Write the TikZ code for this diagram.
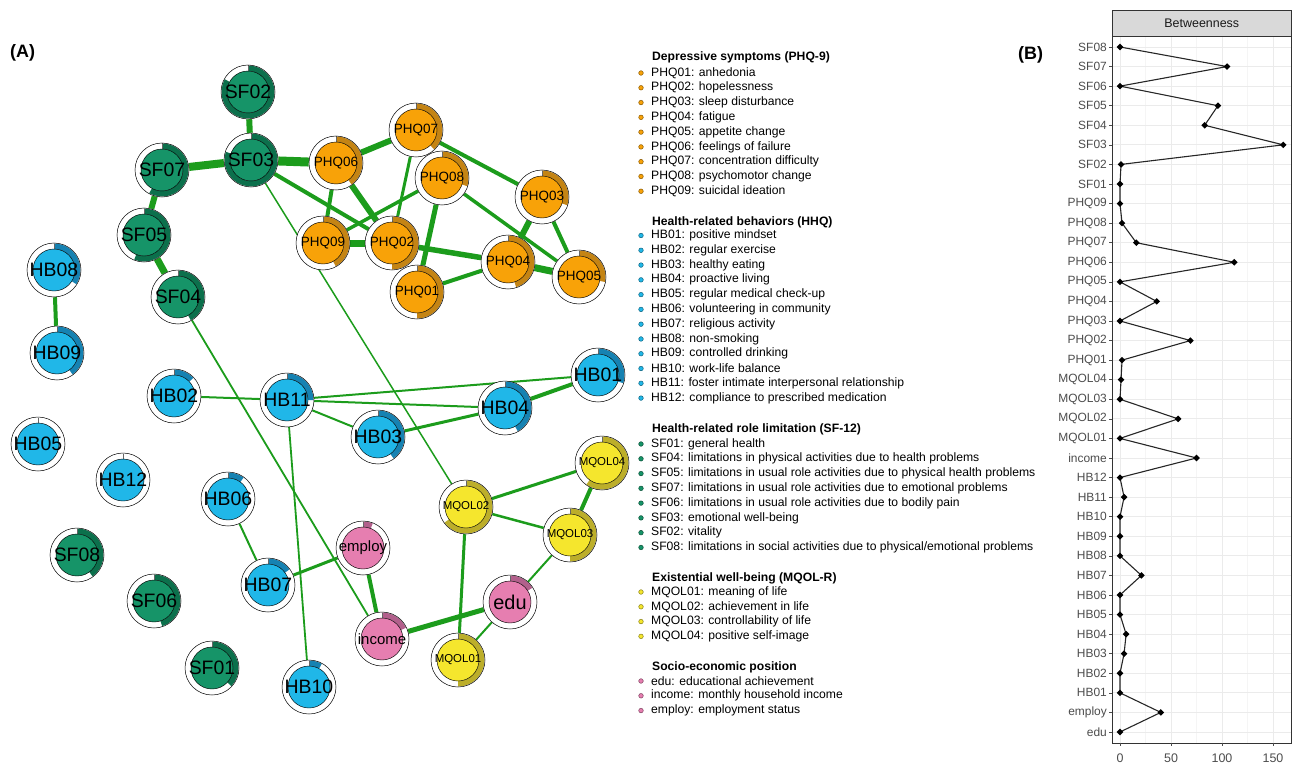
\documentclass[tikz,border=0pt]{standalone}
\usepackage{fontspec}
\setmainfont{Liberation Sans}
\usetikzlibrary{backgrounds}
\definecolor{SFf}{RGB}{22,148,104}
\definecolor{SFd}{RGB}{12,112,76}
\definecolor{HBf}{RGB}{32,183,232}
\definecolor{HBd}{RGB}{22,130,178}
\definecolor{PHf}{RGB}{248,162,8}
\definecolor{PHd}{RGB}{196,132,20}
\definecolor{MQf}{RGB}{245,230,45}
\definecolor{MQd}{RGB}{188,174,42}
\definecolor{SEf}{RGB}{230,126,176}
\definecolor{SEd}{RGB}{178,96,140}
\definecolor{edgec}{RGB}{28,156,28}
\definecolor{gridmaj}{RGB}{235,235,235}
\definecolor{gridmin}{RGB}{245,245,245}
\tikzset{
  pn/.style n args={3}{circle, minimum size=54bp, inner sep=0pt, draw=black, line width=0.5bp, fill=white, text=black,
    path picture={
      \fill[#2] ([shift={(90:21bp)}]path picture bounding box.center) arc[start angle=90,end angle={90-360*#3},radius=21bp]
         -- ([shift={({90-360*#3}:26.5bp)}]path picture bounding box.center) arc[start angle={90-360*#3},end angle=90,radius=26.5bp] -- cycle;
      \draw[line width=0.4bp, black!60] ([shift={(90:21bp)}]path picture bounding box.center) -- ([shift={(90:26.5bp)}]path picture bounding box.center);
      \filldraw[fill=#1, draw=black, line width=0.45bp] (path picture bounding box.center) circle[radius=21bp];
    }},
  fSF/.style={font=\fontsize{19.5}{19.5}\selectfont},
  fPH/.style={font=\fontsize{13.5}{13.5}\selectfont},
  fMQ/.style={font=\fontsize{11.5}{11.5}\selectfont},
  fSE/.style={font=\fontsize{15}{15}\selectfont},
  ed/.style={draw=edgec},
  lhead/.style={anchor=west, inner sep=0pt, font=\fontsize{12.2}{12.2}\selectfont\bfseries, text=black},
  litem/.style={anchor=west, inner sep=0pt, font=\fontsize{12.2}{12.2}\selectfont, text=black},
  lbul/.style={circle, inner sep=0pt, minimum size=4.6bp, line width=0.5bp},
  ylab/.style={anchor=east, inner sep=0pt, font=\fontsize{12}{12}\selectfont, text=black!70},
  xlab/.style={inner sep=0pt, font=\fontsize{12.5}{12.5}\selectfont, text=black!70},
  tickl/.style={draw=black!70, line width=0.5bp},
  panellab/.style={inner sep=0pt, font=\fontsize{18}{18}\selectfont\bfseries},
}
\newcommand\leggroup[6]{%
  \node[lhead] (#1h) at (652,#3) {#2};
  \foreach \t [count=\k from 0] in {#6} {
    \pgfmathsetmacro\yy{#4+\k*14.78}
    \node[lbul, fill=#5, draw=#5!55!black] (#1b\k) at (641,\yy) {};
    \node[litem] (#1t\k) at (651,\yy) {\t};
  }%
}
\begin{document}
\begin{tikzpicture}[x=1bp,y=-1bp]
\useasboundingbox (0,0) rectangle (1298,766);

% ---------------- Panel A: nodes ----------------
\node[pn={SFf}{SFd}{0.83}, fSF] (SF02) at (248,92) {SF02};
\node[pn={SFf}{SFd}{0.80}, fSF] (SF03) at (251,160) {SF03};
\node[pn={SFf}{SFd}{0.58}, fSF] (SF07) at (162,170) {SF07};
\node[pn={SFf}{SFd}{0.56}, fSF] (SF05) at (144,235) {SF05};
\node[pn={SFf}{SFd}{0.42}, fSF] (SF04) at (178,297) {SF04};
\node[pn={HBf}{HBd}{0.34}, fSF] (HB08) at (54,270) {HB08};
\node[pn={HBf}{HBd}{0.40}, fSF] (HB09) at (57,353) {HB09};
\node[pn={HBf}{HBd}{0.13}, fSF] (HB02) at (174,396) {HB02};
\node[pn={HBf}{HBd}{0.25}, fSF] (HB11) at (287,400) {HB11};
\node[pn={HBf}{HBd}{0.001}, fSF] (HB05) at (38,444) {HB05};
\node[pn={HBf}{HBd}{0.001}, fSF] (HB12) at (123,480) {HB12};
\node[pn={HBf}{HBd}{0.10}, fSF] (HB06) at (228,499) {HB06};
\node[pn={SFf}{SFd}{0.40}, fSF] (SF08) at (77,555) {SF08};
\node[pn={HBf}{HBd}{0.15}, fSF] (HB07) at (268,585) {HB07};
\node[pn={SFf}{SFd}{0.45}, fSF] (SF06) at (154,601) {SF06};
\node[pn={SFf}{SFd}{0.37}, fSF] (SF01) at (212,668) {SF01};
\node[pn={HBf}{HBd}{0.08}, fSF] (HB10) at (309,687) {HB10};
\node[pn={SEf}{SEd}{0.18}, fSE] (income) at (382,639) {income};
\node[pn={MQf}{MQd}{0.50}, fMQ] (MQOL01) at (458,660) {MQOL01};
\node[pn={SEf}{SEd}{0.16}, font=\fontsize{20}{20}\selectfont] (edu) at (510,602) {edu};
\node[pn={HBf}{HBd}{0.40}, fSF] (HB03) at (378,437) {HB03};
\node[pn={HBf}{HBd}{0.42}, fSF] (HB04) at (505,408) {HB04};
\node[pn={HBf}{HBd}{0.30}, fSF] (HB01) at (598,375) {HB01};
\node[pn={MQf}{MQd}{0.60}, fMQ] (MQOL04) at (602,463) {MQOL04};
\node[pn={MQf}{MQd}{0.65}, fMQ] (MQOL02) at (466,507) {MQOL02};
\node[pn={MQf}{MQd}{0.50}, fMQ] (MQOL03) at (570,535) {MQOL03};
\node[pn={SEf}{SEd}{0.06}, fSE] (employ) at (363,548) {employ};
\node[pn={PHf}{PHd}{0.38}, fPH] (PHQ07) at (416,130) {PHQ07};
\node[pn={PHf}{PHd}{0.40}, fPH] (PHQ06) at (336,163) {PHQ06};
\node[pn={PHf}{PHd}{0.30}, fPH] (PHQ08) at (442,178) {PHQ08};
\node[pn={PHf}{PHd}{0.30}, fPH] (PHQ03) at (542,197) {PHQ03};
\node[pn={PHf}{PHd}{0.42}, fPH] (PHQ09) at (323,243) {PHQ09};
\node[pn={PHf}{PHd}{0.50}, fPH] (PHQ02) at (392,243) {PHQ02};
\node[pn={PHf}{PHd}{0.45}, fPH] (PHQ04) at (508,262) {PHQ04};
\node[pn={PHf}{PHd}{0.28}, fPH] (PHQ05) at (579,277) {PHQ05};
\node[pn={PHf}{PHd}{0.50}, fPH] (PHQ01) at (417,292) {PHQ01};

% ---------------- Panel A: edges ----------------
\begin{scope}[on background layer]
\draw[ed, line width=6bp] (SF02) -- (SF03);
\draw[ed, line width=8bp] (SF03) -- (SF07);
\draw[ed, line width=6bp] (SF07) -- (SF05);
\draw[ed, line width=7bp] (SF05) -- (SF04);
\draw[ed, line width=9bp] (SF03) -- (PHQ06);
\draw[ed, line width=4bp] (SF03) -- (PHQ02);
\draw[ed, line width=1.5bp] (SF03) -- (MQOL02);
\draw[ed, line width=1.8bp] (SF04) -- (income);
\draw[ed, line width=6bp] (PHQ06) -- (PHQ07);
\draw[ed, line width=4bp] (PHQ06) -- (PHQ09);
\draw[ed, line width=6bp] (PHQ06) -- (PHQ02);
\draw[ed, line width=3bp] (PHQ07) -- (PHQ02);
\draw[ed, line width=4bp] (PHQ07) -- (PHQ03);
\draw[ed, line width=3.5bp] (PHQ08) -- (PHQ09);
\draw[ed, line width=5bp] (PHQ08) -- (PHQ01);
\draw[ed, line width=3.5bp] (PHQ08) -- (PHQ05);
\draw[ed, line width=7bp] (PHQ09) -- (PHQ02);
\draw[ed, line width=5.5bp] (PHQ02) -- (PHQ04);
\draw[ed, line width=4bp] (PHQ01) -- (PHQ04);
\draw[ed, line width=6bp] (PHQ03) -- (PHQ04);
\draw[ed, line width=4bp] (PHQ03) -- (PHQ05);
\draw[ed, line width=7bp] (PHQ04) -- (PHQ05);
\draw[ed, line width=4bp] (HB08) -- (HB09);
\draw[ed, line width=2bp] (HB02) -- (HB11);
\draw[ed, line width=2bp] (HB11) -- (HB01);
\draw[ed, line width=2bp] (HB11) -- (HB04);
\draw[ed, line width=2bp] (HB11) -- (HB03);
\draw[ed, line width=1.8bp] (HB11) -- (HB10);
\draw[ed, line width=3bp] (HB03) -- (HB04);
\draw[ed, line width=4bp] (HB04) -- (HB01);
\draw[ed, line width=2bp] (HB06) -- (HB07);
\draw[ed, line width=3bp] (HB07) -- (employ);
\draw[ed, line width=4bp] (employ) -- (income);
\draw[ed, line width=5bp] (income) -- (edu);
\draw[ed, line width=2bp] (MQOL01) -- (edu);
\draw[ed, line width=3bp] (MQOL02) -- (MQOL01);
\draw[ed, line width=3bp] (MQOL02) -- (MQOL04);
\draw[ed, line width=2.5bp] (MQOL02) -- (MQOL03);
\draw[ed, line width=4bp] (MQOL03) -- (MQOL04);
\draw[ed, line width=2bp] (MQOL03) -- (edu);
\end{scope}

\node[panellab, anchor=west] (labA) at (10,53) {(A)};
\node[panellab, anchor=west] (labB) at (1018,55) {(B)};

% ---------------- Legend ----------------
\leggroup{g1}{Depressive symptoms (PHQ-9)}{57}{73}{PHf}{PHQ01: anhedonia, PHQ02: hopelessness, PHQ03: sleep disturbance, PHQ04: fatigue, PHQ05: appetite change, PHQ06: feelings of failure, PHQ07: concentration difficulty, PHQ08: psychomotor change, PHQ09: suicidal ideation}
\leggroup{g2}{Health-related behaviors (HHQ)}{222}{235.5}{HBf}{HB01: positive mindset, HB02: regular exercise, HB03: healthy eating, HB04: proactive living, HB05: regular medical check-up, HB06: volunteering in community, HB07: religious activity, HB08: non-smoking, HB09: controlled drinking, HB10: work-life balance, HB11: foster intimate interpersonal relationship, HB12: compliance to prescribed medication}
\leggroup{g3}{Health-related role limitation (SF-12)}{429}{444}{SFf}{SF01: general health, SF04: limitations in physical activities due to health problems, SF05: limitations in usual role activities due to physical health problems, SF07: limitations in usual role activities due to emotional problems, SF06: limitations in usual role activities due to bodily pain, SF03: emotional well-being, SF02: vitality, SF08: limitations in social activities due to physical/emotional problems}
\leggroup{g4}{Existential well-being (MQOL-R)}{578}{592}{MQf}{MQOL01: meaning of life, MQOL02: achievement in life, MQOL03: controllability of life, MQOL04: positive self-image}
\leggroup{g5}{Socio-economic position}{667}{681}{SEf}{edu: educational achievement, income: monthly household income, employ: employment status}

% ---------------- Panel B ----------------
\foreach \gx in {1145.5,1196.5,1247.5} \draw[gridmin, line width=0.5bp] (\gx,36) -- (\gx,743);
\foreach \gx in {1120,1171,1222,1273} \draw[gridmaj, line width=0.9bp] (\gx,36) -- (\gx,743);
\foreach \i in {0,...,35} {
  \pgfmathsetmacro\yy{47+\i*19.571}
  \draw[gridmaj, line width=0.9bp] (1112,\yy) -- (1291,\yy);
}
\node[draw=black!80, fill=black!15, line width=0.6bp, minimum width=179bp, minimum height=26bp, inner sep=0pt, anchor=north west,
      font=\fontsize{12.5}{12.5}\selectfont, text=black!90] (strip) at (1112,10) {Betweenness};
\node[draw=black!80, line width=0.6bp, minimum width=179bp, minimum height=707bp, inner sep=0pt, anchor=north west] (panel) at (1112,36) {};
\foreach \lab/\v [count=\i] in {SF08/0, SF07/105, SF06/0, SF05/96, SF04/83, SF03/160, SF02/1, SF01/0, PHQ09/0, PHQ08/2, PHQ07/16, PHQ06/112, PHQ05/0, PHQ04/36, PHQ03/0, PHQ02/69, PHQ01/2, MQOL04/1, MQOL03/0, MQOL02/57, MQOL01/0, income/75, HB12/0, HB11/4, HB10/0, HB09/0, HB08/0, HB07/21, HB06/0, HB05/0, HB04/6, HB03/4, HB02/0, HB01/0, employ/40, edu/0} {
  \pgfmathsetmacro\yy{47+(\i-1)*19.571}
  \coordinate (p\i) at ({1120+1.02*\v},\yy);
  \node[ylab] (yl\i) at (1107,\yy) {\lab};
  \draw[tickl] (1109,\yy) -- (1112,\yy);
}
\draw[black!85, line width=1.1bp] (p1) \foreach \i in {2,...,36} { -- (p\i) };
\foreach \i in {1,...,36} \fill[black] (p\i) +(-3.3,0) -- +(0,3.3) -- +(3.3,0) -- +(0,-3.3) -- cycle;
\foreach \v/\t [count=\j] in {0/0, 50/50, 100/100, 150/150} {
  \draw[tickl] ({1120+1.02*\v},743) -- ({1120+1.02*\v},746);
  \node[xlab] (xl\j) at ({1120+1.02*\v},758) {\t};
}
\end{tikzpicture}
\end{document}
